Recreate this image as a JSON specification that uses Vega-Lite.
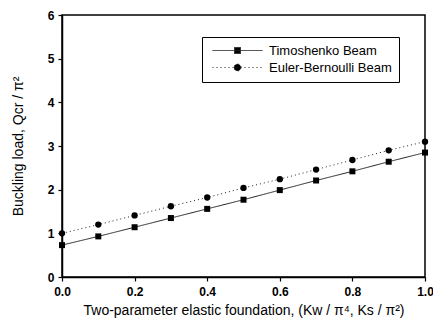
{
  "$schema": "https://vega.github.io/schema/vega-lite/v6.json",
  "width": 363,
  "height": 262,
  "autosize": {"type": "none"},
  "padding": {"left": 62, "top": 15, "right": 8, "bottom": 48},
  "background": "white",
  "config": {
    "view": {"stroke": "#000", "strokeWidth": 1.5},
    "font": "Liberation Sans",
    "axis": {
      "domainColor": "#000", "domainWidth": 1.5, "tickColor": "#000", "tickWidth": 1.2,
      "labelColor": "#000", "labelFont": "Liberation Sans", "labelFontSize": 12, "labelFontWeight": "bold",
      "titleColor": "#000", "titleFont": "Liberation Sans", "titleFontSize": 14, "titleFontWeight": "normal",
      "grid": false
    }
  },
  "data": {"values": [
    {"x": 0.0, "y": 0.73, "series": "Timoshenko Beam"},
    {"x": 0.1, "y": 0.93, "series": "Timoshenko Beam"},
    {"x": 0.2, "y": 1.14, "series": "Timoshenko Beam"},
    {"x": 0.3, "y": 1.35, "series": "Timoshenko Beam"},
    {"x": 0.4, "y": 1.56, "series": "Timoshenko Beam"},
    {"x": 0.5, "y": 1.77, "series": "Timoshenko Beam"},
    {"x": 0.6, "y": 1.99, "series": "Timoshenko Beam"},
    {"x": 0.7, "y": 2.21, "series": "Timoshenko Beam"},
    {"x": 0.8, "y": 2.42, "series": "Timoshenko Beam"},
    {"x": 0.9, "y": 2.64, "series": "Timoshenko Beam"},
    {"x": 1.0, "y": 2.85, "series": "Timoshenko Beam"},
    {"x": 0.0, "y": 1.00, "series": "Euler-Bernoulli Beam"},
    {"x": 0.1, "y": 1.20, "series": "Euler-Bernoulli Beam"},
    {"x": 0.2, "y": 1.41, "series": "Euler-Bernoulli Beam"},
    {"x": 0.3, "y": 1.62, "series": "Euler-Bernoulli Beam"},
    {"x": 0.4, "y": 1.82, "series": "Euler-Bernoulli Beam"},
    {"x": 0.5, "y": 2.04, "series": "Euler-Bernoulli Beam"},
    {"x": 0.6, "y": 2.24, "series": "Euler-Bernoulli Beam"},
    {"x": 0.7, "y": 2.46, "series": "Euler-Bernoulli Beam"},
    {"x": 0.8, "y": 2.68, "series": "Euler-Bernoulli Beam"},
    {"x": 0.9, "y": 2.90, "series": "Euler-Bernoulli Beam"},
    {"x": 1.0, "y": 3.10, "series": "Euler-Bernoulli Beam"}
  ]},
  "layer": [
    {
      "mark": {"type": "line", "color": "#222", "strokeWidth": 1, "clip": false},
      "encoding": {
        "x": {"field": "x", "type": "quantitative",
          "scale": {"domain": [0, 1], "nice": false, "zero": false},
          "axis": {"values": [0, 0.1, 0.2, 0.3, 0.4, 0.5, 0.6, 0.7, 0.8, 0.9, 1.0], "format": ".1f",
            "labelOverlap": false, "labelBound": false, "labelFlush": false,
            "tickSize": 4, "labelPadding": 5, "titlePadding": 6,
            "title": "Two-parameter elastic foundation, (Kw / π⁴,  Ks / π²)"}},
        "y": {"field": "y", "type": "quantitative",
          "scale": {"domain": [0, 6], "nice": false},
          "axis": {"values": [0, 1, 2, 3, 4, 5, 6], "tickSize": 4, "labelPadding": 4, "titlePadding": 22,
            "labelOverlap": false, "labelFlush": false,
            "title": "Buckling load, Qcr / π²"}},
        "strokeDash": {"field": "series", "type": "nominal",
          "scale": {"domain": ["Timoshenko Beam", "Euler-Bernoulli Beam"], "range": [[1, 0], [1, 3]]},
          "legend": {
            "title": null, "orient": "none", "legendX": 140, "legendY": 22,
            "padding": 7, "strokeColor": "#000", "fillColor": "white",
            "symbolSize": 100, "symbolOffset": 22, "labelOffset": 25, "rowPadding": 3,
            "symbolType": {"expr": "datum.value === 'Timoshenko Beam' ? 'M-5,0H5M-0.6,-0.6H0.6V0.6H-0.6Z' : 'M-5,0H5M0.7,0A0.7,0.7,0,1,1,-0.7,0A0.7,0.7,0,1,1,0.7,0Z'"},
            "symbolStrokeColor": "#222", "symbolStrokeWidth": 1, "symbolFillColor": "#000",
            "labelFont": "Liberation Sans", "labelFontSize": 13, "labelColor": "#000"
          }}
      }
    },
    {
      "transform": [{"filter": "datum.series === 'Timoshenko Beam'"}],
      "mark": {"type": "point", "shape": "square", "filled": true, "color": "#000", "opacity": 1, "size": 36, "clip": false},
      "encoding": {
        "x": {"field": "x", "type": "quantitative"},
        "y": {"field": "y", "type": "quantitative"}
      }
    },
    {
      "transform": [{"filter": "datum.series === 'Euler-Bernoulli Beam'"}],
      "mark": {"type": "point", "shape": "circle", "filled": true, "color": "#000", "opacity": 1, "size": 40, "clip": false},
      "encoding": {
        "x": {"field": "x", "type": "quantitative"},
        "y": {"field": "y", "type": "quantitative"}
      }
    }
  ]
}
